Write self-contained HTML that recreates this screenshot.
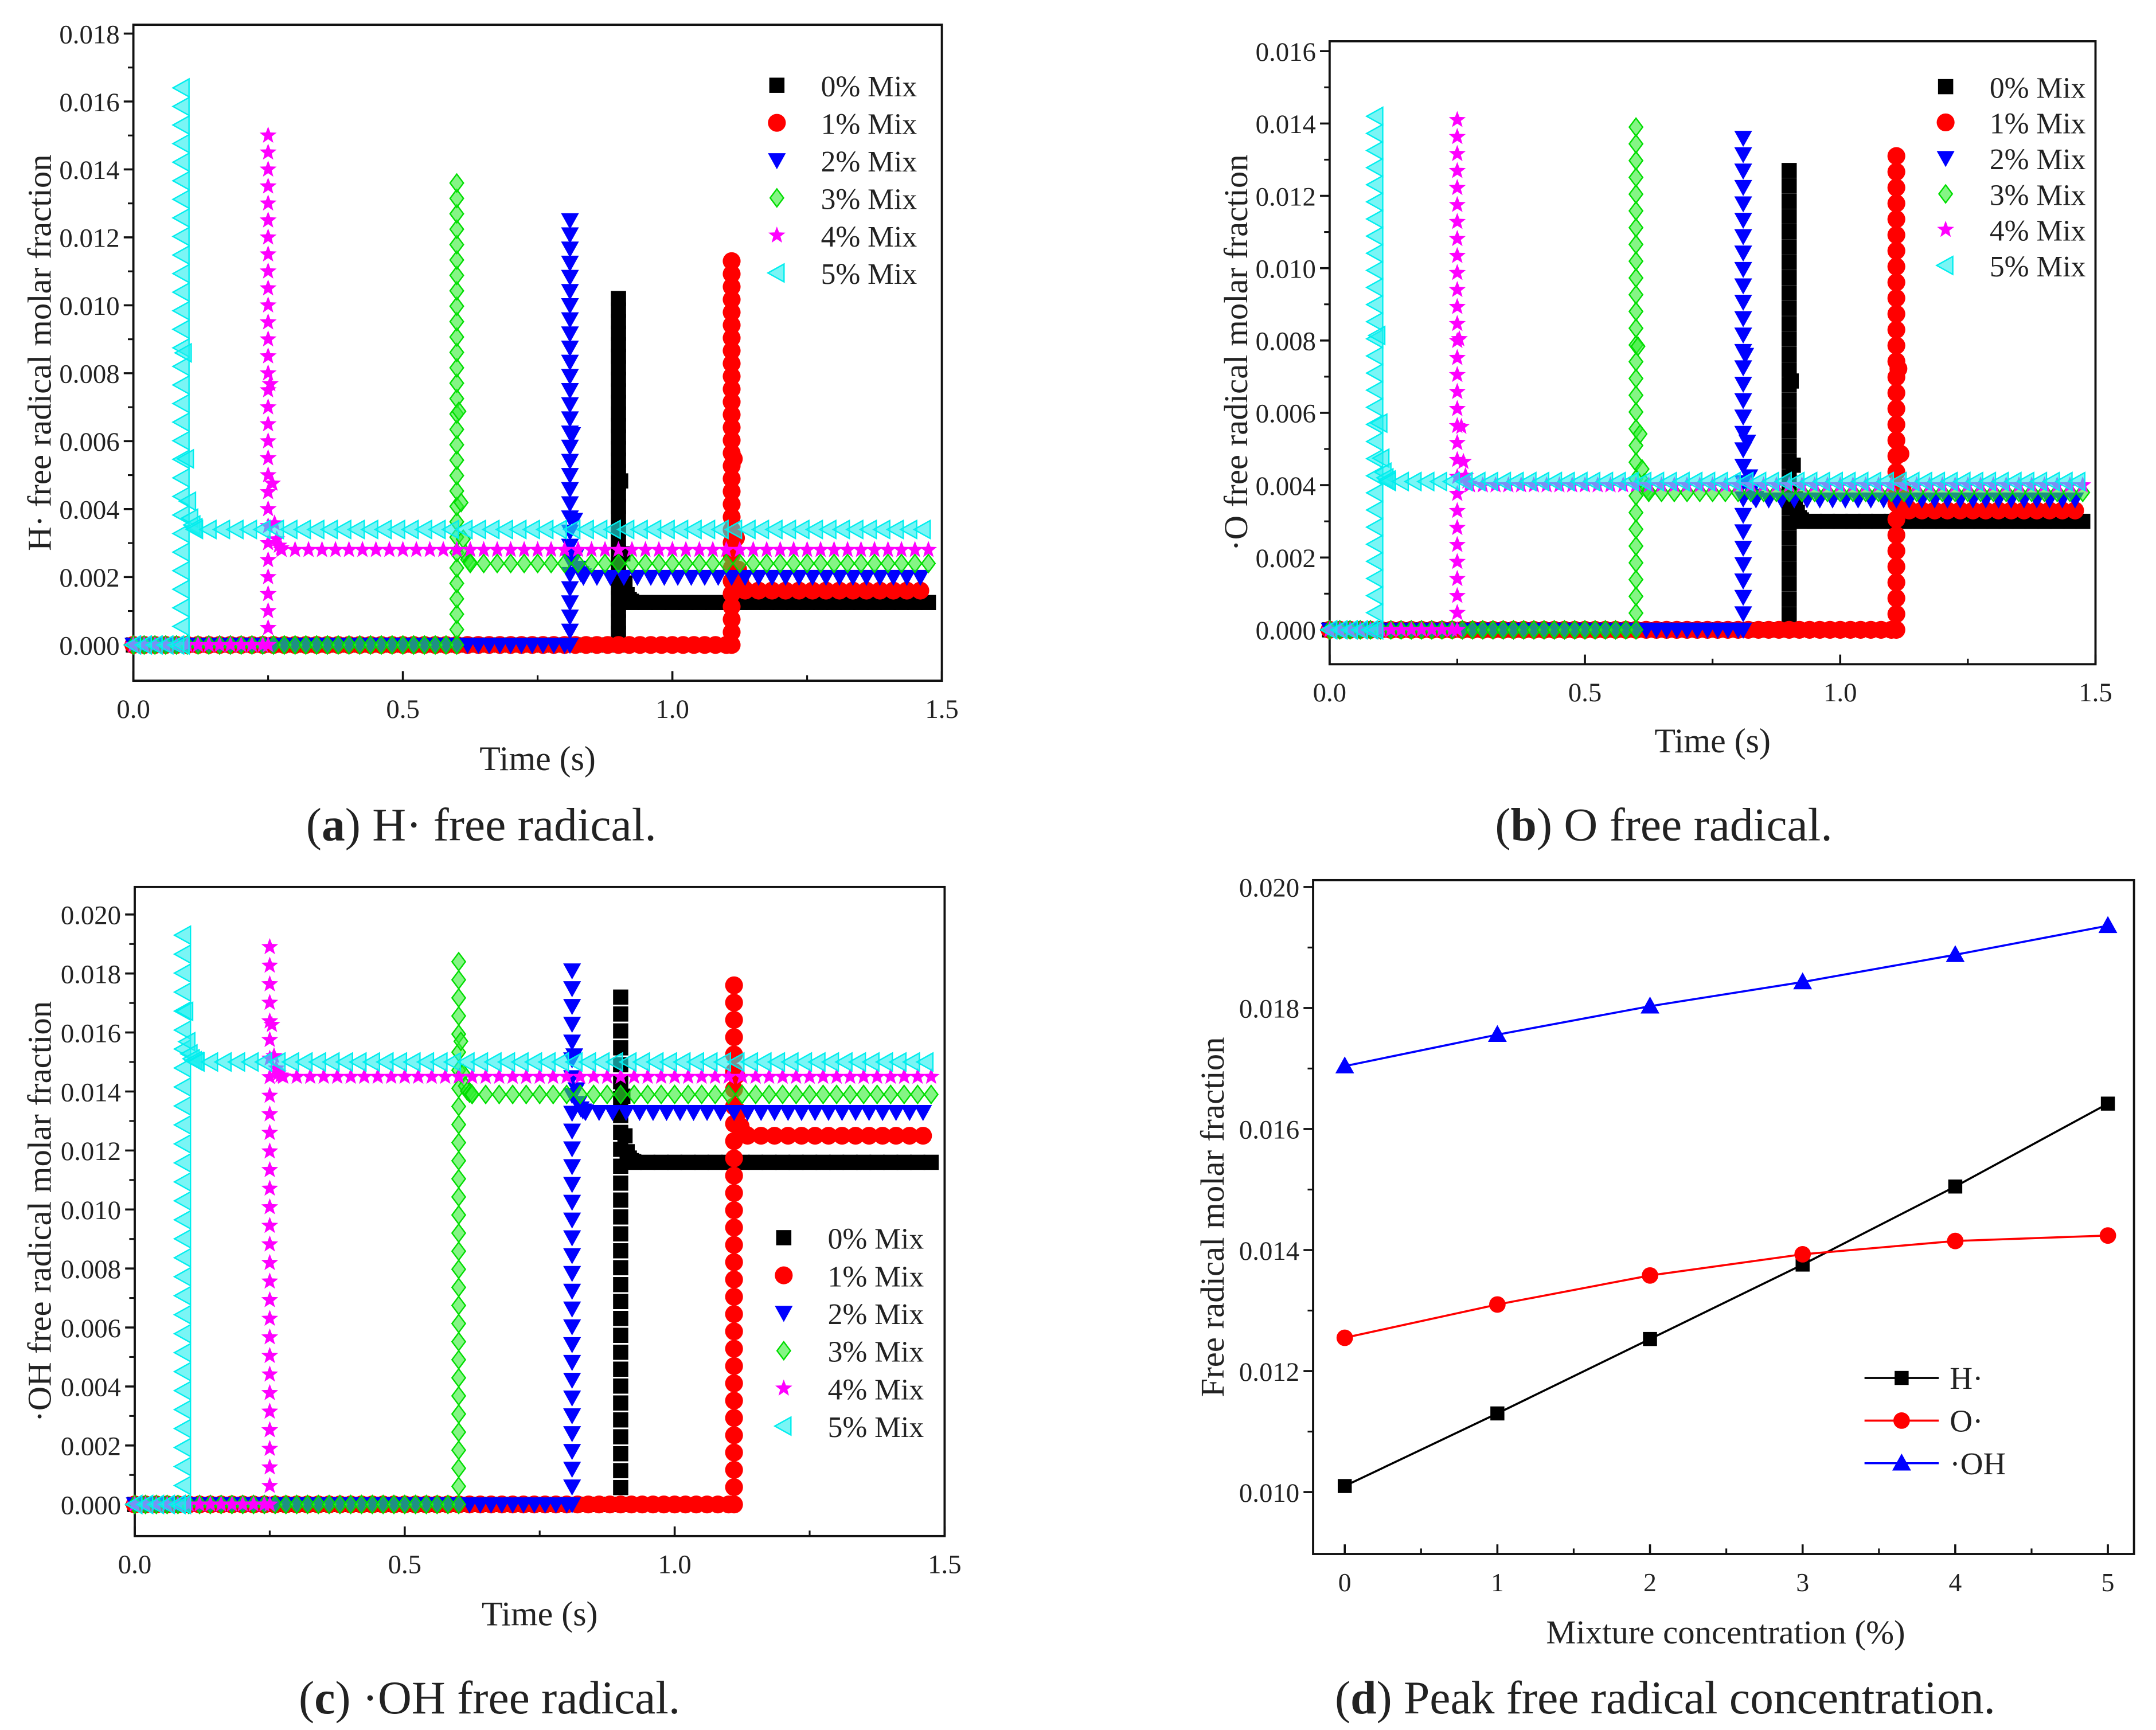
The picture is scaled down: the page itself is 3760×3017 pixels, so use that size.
<!DOCTYPE html>
<html><head><meta charset="utf-8"><style>
html,body{margin:0;padding:0;background:#fff}
svg{display:block}
text{font-family:"Liberation Serif",serif;fill:#222}
</style></head><body>
<svg id="fig" width="3760" height="3017" viewBox="0 0 1568 1258" preserveAspectRatio="none" xmlns="http://www.w3.org/2000/svg"></svg>
<script>
// ---- data ----
const seriesNames = ["0% Mix","1% Mix","2% Mix","3% Mix","4% Mix","5% Mix"];
const ignitionTimes = [0.90, 1.11, 0.81, 0.60, 0.25, 0.09];
const hPeaks = [0.0102, 0.0113, 0.0125, 0.0136, 0.0150, 0.0164];
const hPlateaus = [0.00125, 0.0016, 0.0020, 0.0024, 0.0028, 0.0034];
const oPeaks = [0.0127, 0.0131, 0.0136, 0.0139, 0.0141, 0.0142];
const oPlateaus = [0.0030, 0.0033, 0.0036, 0.0038, 0.0040, 0.0041];
const ohPeaks = [0.0172, 0.0176, 0.0181, 0.0184, 0.0189, 0.0193];
const ohPlateaus = [0.0116, 0.0125, 0.0133, 0.0139, 0.0145, 0.0150];
const mixConc = [0, 1, 2, 3, 4, 5];
const peakH = [0.0101, 0.0113, 0.01253, 0.01376, 0.01505, 0.01642];
const peakO = [0.01255, 0.0131, 0.01358, 0.01393, 0.01415, 0.01424];
const peakOH = [0.01704, 0.01756, 0.01803, 0.01843, 0.01888, 0.01936];
const timeTicks = ["0.0","0.5","1.0","1.5"];
const mixTicks = ["0","1","2","3","4","5"];

const NS="http://www.w3.org/2000/svg";
const svg=document.getElementById('fig');
function el(tag,attrs,parent){const e=document.createElementNS(NS,tag);for(const k in attrs)e.setAttribute(k,attrs[k]);(parent||svg).appendChild(e);return e;}
function txt(s,x,y,size,anchor,parent,rot){const t=el('text',{x:x,y:y,'font-size':size,'text-anchor':anchor||'middle'},parent);if(rot)t.setAttribute('transform','rotate(-90 '+x+' '+y+')');t.textContent=s;return t;}

const styles=[
 {type:'square',fill:'#000',stroke:'#000'},
 {type:'circle',fill:'#f00',stroke:'#f00'},
 {type:'down',fill:'#00f',stroke:'#00f'},
 {type:'diamond',fill:'#33ee33',stroke:'#00dd00'},
 {type:'star',fill:'#f0f',stroke:'#f0f'},
 {type:'left',fill:'#22eeee',stroke:'#00eeee'}
];
function marker(type,x,y,s,fill,stroke,g){
  const r=s/2;let e;
  if(type==='square')e=el('rect',{x:x-r*0.85,y:y-r*0.85,width:r*1.7,height:r*1.7,fill:fill},g);
  else if(type==='circle')e=el('circle',{cx:x,cy:y,r:r,fill:fill},g);
  else if(type==='down')e=el('polygon',{points:`${x-r},${y-r*0.8} ${x+r},${y-r*0.8} ${x},${y+r}`,fill:fill},g);
  else if(type==='up')e=el('polygon',{points:`${x-r},${y+r*0.8} ${x+r},${y+r*0.8} ${x},${y-r}`,fill:fill,stroke:stroke},g);
  else if(type==='diamond')e=el('polygon',{points:`${x},${y-r} ${x+r*0.75},${y} ${x},${y+r} ${x-r*0.75},${y}`,fill:fill,'fill-opacity':0.6,stroke:stroke,'stroke-width':1},g);
  else if(type==='left')e=el('polygon',{points:`${x+r*0.8},${y-r} ${x+r*0.8},${y+r} ${x-r},${y}`,fill:fill,'fill-opacity':0.6,stroke:stroke,'stroke-width':1},g);
  else if(type==='star'){let p=[];for(let i=0;i<10;i++){const a=-Math.PI/2+i*Math.PI/5;const rr=i%2?r*0.42:r;p.push((x+rr*Math.cos(a)).toFixed(1)+','+(y+rr*Math.sin(a)).toFixed(1));}e=el('polygon',{points:p.join(' '),fill:fill},g);}
  return e;
}

function axesFrame(p,g){
  el('rect',{x:p.x0,y:p.y0,width:p.x1-p.x0,height:p.y1-p.y0,fill:'none',stroke:'#111','stroke-width':1.6},g);
}
const MS=13;
function timePanel(p,peaks,plateaus,name){
  const g=el('g',{});
  
  
  const X=v=>p.x0+(v-0)/1.5*(p.x1-p.x0);
  const Y=v=>p.yz-v/p.ystep*p.ypx;
  axesFrame(p,g);
  timeTicks.forEach((lab,i)=>{const v=i*0.5,x=X(v);
    el('line',{x1:x,y1:p.y1,x2:x,y2:p.y1-7,stroke:'#111','stroke-width':1.5},g);
    if(i<3){const xm=X(v+0.25);el('line',{x1:xm,y1:p.y1,x2:xm,y2:p.y1-4,stroke:'#111','stroke-width':1.3},g);}
    txt(lab,x,p.y1+27,19.5,'middle',g);});
  for(let k=0;k<=p.nt;k++){const v=k*p.ystep,y=Y(v);
    el('line',{x1:p.x0,y1:y,x2:p.x0-7,y2:y,stroke:'#111','stroke-width':1.5},g);
    const ym=Y(v+p.ystep/2);if(ym>p.y0)el('line',{x1:p.x0,y1:ym,x2:p.x0-4,y2:ym,stroke:'#111','stroke-width':1.3},g);
    txt(v.toFixed(3),p.x0-10,y+7,19.5,'end',g);}
  txt(p.ylab,p.ylx,(p.y0+p.y1)/2,24.5,'middle',g,true);
  txt('Time (s)',(p.x0+p.x1)/2,p.xty,25,'middle',g);
  for(let s=0;s<6;s++){
    const sg=el('g',{},g);
    
    
    const st=styles[s],t0=ignitionTimes[s];
    for(let t=0;t<t0;t+=0.02)marker(st.type,X(t),Y(0),MS,st.fill,st.stroke,sg);
    for(let k=0;k<=30;k++){marker(st.type,X(t0),Y(peaks[s]*k/30),MS,st.fill,st.stroke,sg);}
    for(let k=1;k<=6;k++){marker(st.type,X(t0+0.004*k),Y(plateaus[s]+(peaks[s]-plateaus[s])*Math.pow(0.4,k)),MS,st.fill,st.stroke,sg);}
    for(let t=t0+0.025;t<=1.48;t+=0.025)marker(st.type,X(t),Y(plateaus[s]),MS,st.fill,st.stroke,sg);
  }
  const lg=el('g',{},g);
  
  
  seriesNames.forEach((n,i)=>{const y=p.ly+i*p.lstep;
    const e=el('g',{},lg);
    
    
    marker(styles[i].type,p.lx,y,13,styles[i].fill,styles[i].stroke,e);
    txt(n,p.lx+32,y+8,21.5,'start',e);});
}

timePanel({x0:97,x1:685,y0:18,y1:495,yz:469,ystep:0.002,ypx:49.4,nt:9,ylab:'H· free radical molar fraction',ylx:37,xty:560,lx:565,ly:62,lstep:27.3},hPeaks,hPlateaus,'chart-h-radical');
timePanel({x0:967,x1:1524,y0:30,y1:483,yz:458,ystep:0.002,ypx:52.6,nt:8,ylab:'·O free radical molar fraction',ylx:907,xty:547,lx:1415,ly:63,lstep:26},oPeaks,oPlateaus,'chart-o-radical');
timePanel({x0:98,x1:687,y0:645,y1:1117,yz:1094,ystep:0.002,ypx:42.9,nt:10,ylab:'·OH free radical molar fraction',ylx:37,xty:1182,lx:570,ly:900,lstep:27.4},ohPeaks,ohPlateaus,'chart-oh-radical');

(function(){
  const p={x0:955,x1:1552,y0:640,y1:1130};
  const g=el('g',{});
  
  
  const X=v=>978+v/5*(1533-978);
  const Y=v=>1085-(v-0.010)/0.002*88;
  axesFrame(p,g);
  mixTicks.forEach((lab,i)=>{const x=X(i);
    el('line',{x1:x,y1:p.y1,x2:x,y2:p.y1-7,stroke:'#111','stroke-width':1.5},g);
    if(i<5){const xm=X(i+0.5);el('line',{x1:xm,y1:p.y1,x2:xm,y2:p.y1-4,stroke:'#111','stroke-width':1.3},g);}
    txt(lab,x,p.y1+27,19,'middle',g);});
  for(let k=0;k<=5;k++){const v=0.010+k*0.002,y=Y(v);
    el('line',{x1:p.x0,y1:y,x2:p.x0-7,y2:y,stroke:'#111','stroke-width':1.5},g);
    const ym=Y(v+0.001);if(ym>p.y0)el('line',{x1:p.x0,y1:ym,x2:p.x0-4,y2:ym,stroke:'#111','stroke-width':1.3},g);
    txt(v.toFixed(3),p.x0-10,y+7,19.5,'end',g);}
  txt('Free radical molar fraction',890,885,24.5,'middle',g,true);
  txt('Mixture concentration (%)',1255,1195,24.5,'middle',g);
  const defs=[[peakH,'#000','square','H·'],[peakO,'#f00','circle','O·'],[peakOH,'#00f','up','·OH']];
  defs.forEach((d,i)=>{
    const sg=el('g',{},g);
    
    
    el('polyline',{points:mixConc.map((c,j)=>X(c)+','+Y(d[0][j])).join(' '),fill:'none',stroke:d[1],'stroke-width':1.5},sg);
    mixConc.forEach((c,j)=>marker(d[2],X(c),Y(d[0][j]),12,d[1],d[1],sg));
    const y=1002+i*31;
    const e=el('g',{},g);
    
    
    el('line',{x1:1356,y1:y,x2:1410,y2:y,stroke:d[1],'stroke-width':1.5},e);
    marker(d[2],1383,y,12,d[1],d[1],e);
    txt(d[3],1418,y+8,23,'start',e);
  });
})();

function caption(letter,rest,x,y,name){
  const t=el('text',{x:x,y:y,'font-size':34,'text-anchor':'middle'});
  
  
  const a=el('tspan',{},t);a.textContent='(';
  const b=el('tspan',{'font-weight':'bold'},t);b.textContent=letter;
  const c=el('tspan',{},t);c.textContent=') '+rest;
}
caption('a','H· free radical.',350,611,'caption-a');
caption('b','O free radical.',1210,611,'caption-b');
caption('c','·OH free radical.',356,1246,'caption-c');
caption('d','Peak free radical concentration.',1211,1246,'caption-d');
</script>
</body></html>
